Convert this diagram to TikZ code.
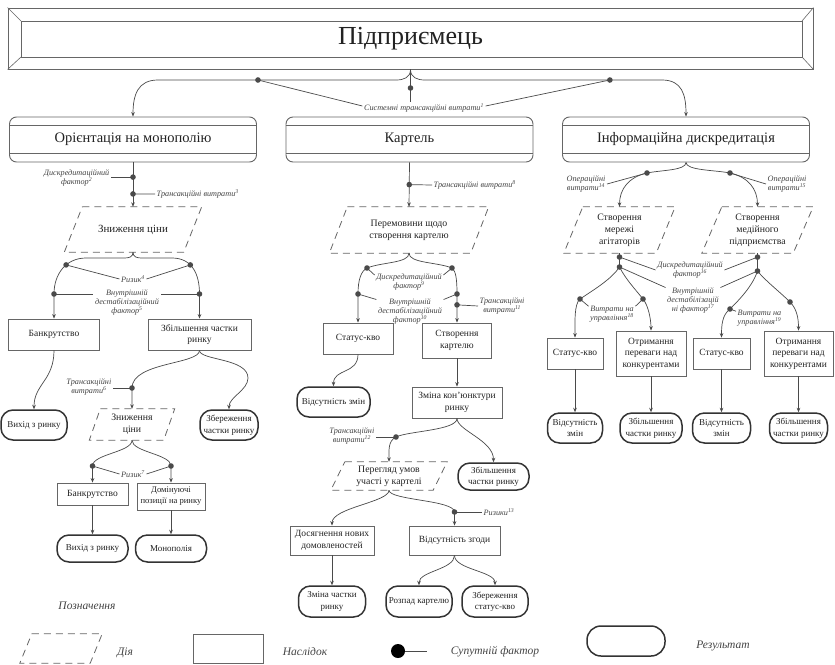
\documentclass[tikz,border=0pt]{standalone}
\usepackage{fontspec}
\setmainfont{Liberation Serif}
\usetikzlibrary{arrows.meta}
\definecolor{lc}{HTML}{4A4A4A}
\definecolor{bc}{HTML}{666666}
\definecolor{tc}{HTML}{333333}
\definecolor{txc}{HTML}{222222}
\definecolor{labc}{HTML}{444444}
\newcommand{\paral}[2]{\draw[dsh] ([xshift=#2pt]#1.north west) -- ([xshift=#2pt]#1.north east) -- ([xshift=-#2pt]#1.south east) -- ([xshift=-#2pt]#1.south west) -- cycle;}
\newcommand{\stripes}[1]{\draw[bc,line width=0.7pt] ([yshift=-9pt]#1.north west) -- ([yshift=-9pt]#1.north east); \draw[bc,line width=0.7pt] ([yshift=9pt]#1.south west) -- ([yshift=9pt]#1.south east);}
\newcommand{\fdot}[1]{\fill[lc] (#1) circle (2.8pt);}
\begin{document}
\begin{tikzpicture}[x=1pt,y=-1pt,
  ln/.style={draw=lc,line width=0.7pt},
  arr/.style={ln,-{Stealth[length=4.5pt,width=3.6pt]}},
  bx/.style={draw=bc,line width=0.8pt,fill=white,align=center,text=txc,font=\fontsize{9.5}{11.5}\selectfont,inner sep=1pt},
  term/.style={draw=tc,line width=1.5pt,rounded corners=12pt,fill=white,align=center,text=txc,font=\fontsize{9}{11.5}\selectfont,inner sep=1pt},
  act/.style={align=center,text=txc,font=\fontsize{9.8}{12}\selectfont,inner sep=0pt},
  big/.style={draw=bc,line width=0.9pt,rounded corners=7pt,minimum width=247pt,minimum height=45pt,font=\fontsize{14.5}{16}\selectfont,text=txc},
  lab/.style={font=\fontsize{8.2}{9}\selectfont\itshape,text=labc,align=center,inner sep=1.5pt},
  leglab/.style={font=\fontsize{11.5}{13}\selectfont\itshape,text=labc},
  dsh/.style={draw=bc,line width=0.8pt,dash pattern=on 7pt off 5pt},
]
\useasboundingbox (0,0) rectangle (835,664);
\fill[white] (0,0) rectangle (835,664);

% ---------- top ----------
\node[draw=bc,line width=0.9pt,minimum width=805pt,minimum height=61pt,inner sep=0pt,font=\fontsize{26}{28}\selectfont,text=txc] (top) at (410.5,38.5) {Підприємець};
\coordinate (ti1) at (21,21); \coordinate (ti2) at (802,21);
\coordinate (ti3) at (802,57); \coordinate (ti4) at (21,57);
\draw[bc,line width=0.7pt] (ti1) rectangle (ti3);
\draw[bc,line width=0.6pt] (top.north west) -- (ti1) (top.north east) -- (ti2) (top.south east) -- (ti3) (top.south west) -- (ti4);

% ---------- row 2 ----------
\node[big] (orient) at (133,139.5) {Орієнтація на монополію};
\node[big] (kart) at (409.5,139.5) {Картель};
\node[big] (info) at (686,139.5) {Інформаційна дискредитація};
\stripes{orient}\stripes{kart}\stripes{info}

\node[lab] (sys) at (424,108) {Системні трансакційні витрати\textsuperscript{1}};
\draw[arr] (top.south) .. controls +(0,8) and +(8,0) .. (396,80) -- (158,80) coordinate[pos=0.58] (sd1) .. controls +(-20,0) and +(0,-22) .. (orient.north);
\draw[arr] (top.south) .. controls +(0,8) and +(-8,0) .. (425,80) -- (662,80) coordinate[pos=0.78] (sd2) .. controls +(20,0) and +(0,-22) .. (info.north);
\coordinate (sd0) at (410.5,88);
\draw[ln] (top.south) -- (top.south |- sys.north);
\draw[ln] (sd1) -- ([yshift=2pt]sys.west);
\draw[ln] (sd2) -- ([yshift=2pt]sys.east);
\fdot{sd0}\fdot{sd1}\fdot{sd2}

% ---------- column 1 ----------
\node[act,minimum width=119pt,minimum height=45pt,font=\fontsize{11}{13}\selectfont] (zn) at (133,229.5) {Зниження ціни};
\paral{zn}{9}
\draw[arr] (orient.south) -- coordinate[pos=0.33] (od1) coordinate[pos=0.71] (od2) (zn.north);
\node[lab,anchor=east] (dis2) at (111,177.5) {Дискредитаційний\\фактор\textsuperscript{2}};
\draw[ln] (od1) -- (od1 -| dis2.east);
\node[lab,anchor=west] (tr3) at (155,194) {Трансакційні витрати\textsuperscript{3}};
\draw[ln] (od2) -- (tr3.west);
\fdot{od1}\fdot{od2}

\node[bx,minimum width=91pt,minimum height=31pt] (ban1) at (54,334.5) {Банкрутство};
\node[bx,minimum width=103pt,minimum height=31pt] (zb) at (199.5,334.5) {Збільшення частки\\ринку};
\draw[arr] (zn.south) .. controls +(0,5) and +(5,0) .. (124,258) -- (86,258) .. controls +(-20,0) and +(0,-20) .. (54,294) coordinate[pos=0.4] (oa1) coordinate (oa2) -- (ban1.north);
\draw[arr] (zn.south) .. controls +(0,5) and +(-5,0) .. (142,258) -- (172,258) .. controls +(20,0) and +(0,-20) .. (199.5,294) coordinate[pos=0.4] (ob1) coordinate (ob2) -- (zb.north);
\node[lab] (r4) at (133,279) {Ризик\textsuperscript{4}};
\draw[ln] (oa1) -- (r4.west); \draw[ln] (ob1) -- (r4.east);
\node[lab] (v5) at (127,302) {Внутрішній\\дестабілізаційний\\фактор\textsuperscript{5}};
\draw[ln] (oa2) -- (oa2 -| v5.west); \draw[ln] (ob2) -- (ob2 -| v5.east);
\fdot{oa1}\fdot{oa2}\fdot{ob1}\fdot{ob2}

\node[term,minimum width=66pt,minimum height=30pt] (vy1) at (34,425) {Вихід з ринку};
\draw[arr] (ban1.south) .. controls +(0,30) and +(0,-25) .. (vy1.north);

\node[act,minimum width=74pt,minimum height=31pt] (zn2) at (132,424.5) {Зниження\\ціни};
\paral{zn2}{5.5}
\node[term,minimum width=58pt,minimum height=30pt] (zc1) at (229,425) {Збереження\\частки ринку};
\draw[arr] (zb.south) .. controls +(0,14) and +(0,-26) .. (132,388) coordinate (oc1) -- (zn2.north);
\draw[arr] (zb.south) .. controls +(0,10) and +(0,-20) .. (248,378) .. controls +(0,12) and +(0,-12) .. (zc1.north);
\node[lab,anchor=east] (tr6) at (113,387) {Трансакційні\\витрати\textsuperscript{6}};
\draw[ln] (oc1) -- (oc1 -| tr6.east);
\fdot{oc1}

\node[bx,minimum width=71pt,minimum height=22pt] (ban2) at (92.5,494) {Банкрутство};
\node[bx,minimum width=68pt,minimum height=27pt,font=\fontsize{8.6}{11}\selectfont] (dom) at (171,496.5) {Домінуючі\\позиції на ринку};
\draw[arr] (zn2.south) .. controls +(0,12) and +(0,-12) .. (92.5,466) coordinate (od3) -- (ban2.north);
\draw[arr] (zn2.south) .. controls +(0,12) and +(0,-12) .. (171,466) coordinate (od4) -- (dom.north);
\node[lab] (r7) at (133,474) {Ризик\textsuperscript{7}};
\draw[ln] (od3) -- (r7.west); \draw[ln] (od4) -- (r7.east);
\fdot{od3}\fdot{od4}
\node[term,minimum width=71pt,minimum height=27pt] (vy2) at (92.5,548.5) {Вихід з ринку};
\node[term,minimum width=71pt,minimum height=27pt] (mon) at (171,548.5) {Монополія};
\draw[arr] (ban2.south) -- (vy2.north);
\draw[arr] (dom.south) -- (mon.north);

% ---------- column 2 ----------
\node[act,minimum width=141pt,minimum height=46pt] (per) at (409,230) {Перемовини щодо\\створення картелю};
\paral{per}{9}
\draw[arr] (kart.south) -- coordinate[pos=0.5] (kd1) (per.north);
\node[lab,anchor=west] (tr8) at (432,185) {Трансакційні витрати\textsuperscript{8}};
\draw[ln] (kd1) -- (tr8.west);
\fdot{kd1}

\node[bx,minimum width=70pt,minimum height=31pt] (stat1) at (358,338.5) {Статус-кво};
\node[bx,minimum width=69pt,minimum height=35pt] (sk) at (457,340.5) {Створення\\картелю};
\draw[arr] (per.south) .. controls +(0,10) and +(15,-6) .. (367,268) coordinate (ka1) .. controls +(-6,3) and +(0,-14) .. (358,294) coordinate (ka2) -- (stat1.north);
\draw[arr] (per.south) .. controls +(0,10) and +(-15,-6) .. (452,268) coordinate (kb1) .. controls +(4,3) and +(0,-14) .. (457,294) coordinate (kb2) -- coordinate[pos=0.38] (kb3) (sk.north);
\node[lab] (d9) at (409,282) {Дискредитаційний\\фактор\textsuperscript{9}};
\draw[ln] (ka1) -- ([yshift=-3pt]d9.north west); \draw[ln] (kb1) -- ([yshift=-3pt]d9.north east);
\node[lab] (v10) at (410,311) {Внутрішній\\дестабілізаційний\\фактор\textsuperscript{10}};
\draw[ln] (ka2) -- ([yshift=-3pt]v10.north west); \draw[ln] (kb2) -- ([yshift=-3pt]v10.north east);
\node[lab,anchor=west] (tr11) at (478,306) {Трансакційні\\витрати\textsuperscript{11}};
\draw[ln] (kb3) -- (tr11.west);
\fdot{ka1}\fdot{ka2}\fdot{kb1}\fdot{kb2}\fdot{kb3}

\node[term,minimum width=73pt,minimum height=30pt] (vz1) at (333.5,402) {Відсутність змін};
\draw[arr] (stat1.south) .. controls +(0,20) and +(0,-18) .. (vz1.north);
\node[bx,minimum width=90pt,minimum height=31pt] (zk) at (457,402.5) {Зміна кон’юнктури\\ринку};
\draw[arr] (sk.south) -- (zk.north);

\node[act,minimum width=102pt,minimum height=28pt] (per2) at (389,476) {Перегляд умов\\участі у картелі};
\paral{per2}{7}
\node[term,minimum width=71pt,minimum height=27pt] (zc2) at (493.5,476.5) {Збільшення\\частки ринку};
\draw[arr] (zk.south) .. controls +(0,12) and +(12,-6) .. (396,437) coordinate (kc1) .. controls +(-8,4) and +(0,-12) .. (per2.north);
\draw[arr] (zk.south) .. controls +(0,12) and +(0,-22) .. (zc2.north);
\node[lab,anchor=east] (tr12) at (376,436) {Трансакційні\\витрати\textsuperscript{12}};
\draw[ln] (kc1) -- (kc1 -| tr12.east);
\fdot{kc1}

\node[bx,minimum width=84pt,minimum height=29pt] (dos) at (332,540.5) {Досягнення нових\\домовленостей};
\node[bx,minimum width=91pt,minimum height=29pt] (vzg) at (454.5,540.5) {Відсутність згоди};
\draw[arr] (per2.south) .. controls +(0,12) and +(0,-18) .. (dos.north);
\draw[arr] (per2.south) .. controls +(0,10) and +(0,-12) .. (454.5,512) coordinate (kd2) -- (vzg.north);
\node[lab,anchor=west] (r13) at (482,512) {Ризики\textsuperscript{13}};
\draw[ln] (kd2) -- (r13.west);
\fdot{kd2}

\node[term,minimum width=67pt,minimum height=31pt] (zmc) at (332,601.5) {Зміна частки\\ринку};
\node[term,minimum width=66pt,minimum height=31pt] (roz) at (419,601.5) {Розпад картелю};
\node[term,minimum width=66pt,minimum height=31pt] (zss) at (495,601.5) {Збереження\\статус-кво};
\draw[arr] (dos.south) -- (zmc.north);
\draw[arr] (vzg.south) .. controls +(0,14) and +(0,-14) .. (roz.north);
\draw[arr] (vzg.south) .. controls +(0,14) and +(0,-14) .. (zss.north);

% ---------- column 3 ----------
\node[act,minimum width=92pt,minimum height=46pt] (mer) at (619.5,230) {Створення\\мережі\\агітаторів};
\paral{mer}{9.5}
\node[act,minimum width=91pt,minimum height=46pt] (med) at (757.5,230) {Створення\\медійного\\підприємства};
\paral{med}{10}
\draw[arr] (info.south) .. controls +(0,8) and +(15,-3) .. (647,173) coordinate (ia1) .. controls +(-18,4) and +(0,-18) .. (mer.north);
\draw[arr] (info.south) .. controls +(0,8) and +(-15,-3) .. (730,173) coordinate (ib1) .. controls +(18,4) and +(0,-18) .. (med.north);
\node[lab] (op14) at (586,184) {Операційні\\витрати\textsuperscript{14}};
\node[lab] (op15) at (787,184) {Операційні\\витрати\textsuperscript{15}};
\draw[ln] (ia1) -- (op14.east); \draw[ln] (ib1) -- (op15.west);
\fdot{ia1}\fdot{ib1}

\node[bx,minimum width=56pt,minimum height=31pt] (stat2) at (575,353.5) {Статус-кво};
\node[bx,minimum width=70pt,minimum height=45pt] (otr1) at (651,353.5) {Отримання\\переваги над\\конкурентами};
\node[bx,minimum width=57pt,minimum height=31pt] (stat3) at (721.5,353.5) {Статус-кво};
\node[bx,minimum width=69pt,minimum height=45pt] (otr2) at (798.5,353.5) {Отримання\\переваги над\\конкурентами};

\draw[ln] (mer.south) -- coordinate[pos=0.28] (ic1) (619.5,267) coordinate (ic2);
\draw[arr] (ic2) .. controls +(-8,12) and +(15,-10) .. (580,299) coordinate (ic3) .. controls +(-6,5) and +(0,-15) .. (stat2.north);
\draw[arr] (ic2) .. controls +(6,12) and +(-8,-10) .. (643,299) coordinate (ic4) .. controls +(5,6) and +(0,-12) .. (otr1.north);
\draw[ln] (med.south) -- coordinate[pos=0.22] (id1) (757.5,271) coordinate (id2);
\draw[arr] (id2) .. controls +(-5,15) and +(10,-10) .. (730,309) coordinate (id3) .. controls +(-8,6) and +(0,-12) .. (stat3.north);
\draw[arr] (id2) .. controls +(8,10) and +(-10,-10) .. (790,302) coordinate (id4) .. controls +(7,7) and +(0,-12) .. (otr2.north);

\node[lab] (d16) at (690,270) {Дискредитаційний\\фактор\textsuperscript{16}};
\draw[ln] (ic1) -- (d16.west); \draw[ln] (id1) -- (d16.east);
\node[lab] (v17) at (693,300) {Внутрішній\\дестабілізацій\\ні фактор\textsuperscript{17}};
\draw[ln] (ic2) -- ([yshift=-2pt]v17.north west); \draw[ln] (id2) -- ([yshift=-2pt]v17.north east);
\node[lab] (m18) at (612,314) {Витрати на\\управління\textsuperscript{18}};
\draw[ln] (ic3) -- ([yshift=-2pt]m18.north west); \draw[ln] (ic4) -- ([yshift=-2pt]m18.north east);
\node[lab,anchor=west] (m19) at (736,318) {Витрати на\\управління\textsuperscript{19}};
\draw[ln] (id3) -- ([yshift=-3pt]m19.north west);
\fdot{ic1}\fdot{ic2}\fdot{ic3}\fdot{ic4}\fdot{id1}\fdot{id2}\fdot{id3}\fdot{id4}

\node[term,minimum width=55pt,minimum height=30pt] (vz2) at (575,428) {Відсутність\\змін};
\node[term,minimum width=62pt,minimum height=30pt] (zc3) at (651,428) {Збільшення\\частки ринку};
\node[term,minimum width=58pt,minimum height=30pt] (vz3) at (721.5,428) {Відсутність\\змін};
\node[term,minimum width=58pt,minimum height=30pt] (zc4) at (798.5,428) {Збільшення\\частки ринку};
\draw[arr] (stat2.south) -- (vz2.north);
\draw[arr] (otr1.south) -- (zc3.north);
\draw[arr] (stat3.south) -- (vz3.north);
\draw[arr] (otr2.south) -- (zc4.north);

% ---------- legend ----------
\node[leglab] (leg) at (87,606) {Позначення};
\node[act,minimum width=70pt,minimum height=29pt] (lg1) at (61,648.5) {};
\paral{lg1}{6}
\node[leglab] (lt1) at (125,653) {Дія};
\node[draw=bc,line width=0.8pt,minimum width=70pt,minimum height=29pt] (lg2) at (228,648.5) {};
\node[leglab] (lt2) at (305,652) {Наслідок};
\coordinate (lg3) at (398,651);
\coordinate (lg3e) at (427,651);
\draw[ln] (lg3) -- (lg3e);
\fill[black] (lg3) circle (7pt);
\node[leglab] (lt3) at (495,652) {Супутній фактор};
\node[term,minimum width=78pt,minimum height=30pt,rounded corners=14pt] (lg4) at (626,641) {};
\node[leglab] (lt4) at (723,646) {Результат};
\end{tikzpicture}
\end{document}
